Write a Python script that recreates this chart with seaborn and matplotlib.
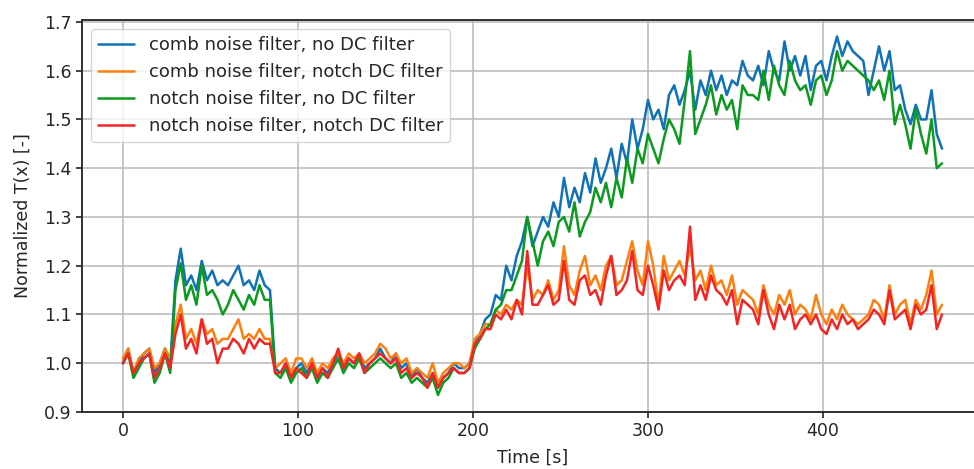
"""
Normalized T(x) over time for the four noise / DC filter combinations.

Usage:
    python plot.py
"""

import numpy as np
import pandas as pd
import matplotlib
matplotlib.use("Agg")
import matplotlib.pyplot as plt
import seaborn as sns

# =============================================================================
# Data (3 s spacing)
# =============================================================================

time_s = np.arange(0, 469, 3)

comb_no_dc = [
    1.00, 1.03, 0.98, 1.00, 1.02, 1.03, 0.98, 1.00, 1.03, 1.00,
    1.17, 1.235, 1.16, 1.18, 1.15, 1.21, 1.17, 1.19, 1.16, 1.17,
    1.16, 1.18, 1.20, 1.16, 1.17, 1.15, 1.19, 1.16, 1.15, 0.99,
    0.98, 1.00, 0.97, 0.99, 1.00, 0.98, 1.00, 0.97, 0.99, 0.98,
    1.00, 1.02, 0.99, 1.01, 1.00, 1.02, 0.99, 1.00, 1.01, 1.03,
    1.01, 1.00, 1.02, 0.99, 1.00, 0.97, 0.99, 0.97, 0.96, 0.98,
    0.95, 0.97, 0.98, 1.00, 0.99, 0.99, 1.00, 1.04, 1.06, 1.09,
    1.10, 1.14, 1.13, 1.20, 1.17, 1.22, 1.25, 1.30, 1.24, 1.27,
    1.30, 1.28, 1.33, 1.30, 1.38, 1.32, 1.36, 1.33, 1.39, 1.35,
    1.42, 1.37, 1.40, 1.44, 1.38, 1.45, 1.41, 1.50, 1.44, 1.48,
    1.54, 1.50, 1.52, 1.48, 1.55, 1.57, 1.53, 1.56, 1.60, 1.52,
    1.58, 1.55, 1.60, 1.56, 1.59, 1.55, 1.58, 1.57, 1.62, 1.59,
    1.58, 1.61, 1.57, 1.64, 1.60, 1.58, 1.66, 1.60, 1.63, 1.59,
    1.63, 1.56, 1.61, 1.62, 1.58, 1.63, 1.67, 1.63, 1.66, 1.64,
    1.63, 1.62, 1.55, 1.60, 1.65, 1.60, 1.64, 1.56, 1.57, 1.52,
    1.49, 1.53, 1.50, 1.50, 1.56, 1.47, 1.44,
]

comb_notch_dc = [
    1.01, 1.03, 0.98, 1.01, 1.02, 1.03, 0.99, 1.00, 1.03, 1.01,
    1.08, 1.12, 1.05, 1.07, 1.04, 1.09, 1.06, 1.07, 1.04, 1.05,
    1.05, 1.07, 1.09, 1.05, 1.06, 1.05, 1.07, 1.05, 1.05, 0.99,
    1.00, 1.01, 0.98, 1.01, 1.01, 0.99, 1.01, 0.98, 1.00, 0.99,
    1.01, 1.02, 1.00, 1.02, 1.01, 1.02, 1.00, 1.01, 1.02, 1.04,
    1.03, 1.01, 1.02, 1.00, 1.01, 0.98, 0.99, 0.98, 0.97, 1.00,
    0.96, 0.98, 0.99, 1.00, 1.00, 0.99, 1.00, 1.05, 1.06, 1.08,
    1.08, 1.11, 1.10, 1.12, 1.11, 1.13, 1.12, 1.20, 1.13, 1.15,
    1.14, 1.17, 1.13, 1.15, 1.24, 1.16, 1.14, 1.19, 1.22, 1.16,
    1.18, 1.15, 1.20, 1.22, 1.16, 1.17, 1.21, 1.25, 1.19, 1.16,
    1.25, 1.20, 1.12, 1.22, 1.17, 1.19, 1.21, 1.18, 1.24, 1.17,
    1.19, 1.15, 1.20, 1.16, 1.17, 1.14, 1.18, 1.12, 1.15, 1.14,
    1.13, 1.10, 1.16, 1.12, 1.10, 1.14, 1.12, 1.15, 1.10, 1.12,
    1.11, 1.09, 1.14, 1.10, 1.08, 1.11, 1.09, 1.12, 1.10, 1.09,
    1.08, 1.09, 1.10, 1.13, 1.12, 1.09, 1.16, 1.10, 1.12, 1.13,
    1.08, 1.13, 1.11, 1.14, 1.19, 1.10, 1.12,
]

notch_no_dc = [
    1.00, 1.02, 0.97, 0.99, 1.01, 1.02, 0.96, 0.98, 1.02, 0.98,
    1.15, 1.205, 1.13, 1.16, 1.12, 1.20, 1.14, 1.15, 1.13, 1.10,
    1.12, 1.15, 1.13, 1.11, 1.14, 1.12, 1.16, 1.13, 1.13, 0.98,
    0.97, 0.99, 0.96, 0.98, 0.99, 0.97, 0.99, 0.96, 0.98, 0.97,
    0.99, 1.01, 0.98, 1.00, 0.99, 1.01, 0.98, 0.99, 1.00, 1.01,
    1.00, 0.99, 1.00, 0.97, 0.98, 0.96, 0.97, 0.96, 0.95, 0.97,
    0.935, 0.96, 0.97, 0.99, 0.98, 0.98, 0.99, 1.03, 1.05, 1.07,
    1.08, 1.11, 1.12, 1.15, 1.15, 1.18, 1.21, 1.30, 1.25, 1.20,
    1.25, 1.27, 1.24, 1.29, 1.30, 1.27, 1.33, 1.26, 1.29, 1.31,
    1.36, 1.33, 1.37, 1.32, 1.38, 1.34, 1.42, 1.37, 1.44, 1.41,
    1.47, 1.44, 1.41, 1.46, 1.50, 1.48, 1.45, 1.54, 1.64, 1.47,
    1.50, 1.53, 1.57, 1.51, 1.55, 1.52, 1.54, 1.48, 1.57, 1.55,
    1.55, 1.54, 1.60, 1.54, 1.61, 1.57, 1.55, 1.62, 1.58, 1.56,
    1.57, 1.53, 1.58, 1.59, 1.55, 1.58, 1.64, 1.60, 1.62, 1.61,
    1.60, 1.59, 1.58, 1.56, 1.58, 1.54, 1.60, 1.49, 1.53, 1.49,
    1.44, 1.52, 1.47, 1.43, 1.50, 1.40, 1.41,
]

notch_notch_dc = [
    1.00, 1.02, 0.98, 1.00, 1.01, 1.02, 0.97, 0.99, 1.02, 0.99,
    1.06, 1.10, 1.03, 1.05, 1.02, 1.09, 1.04, 1.05, 1.00, 1.03,
    1.03, 1.05, 1.04, 1.02, 1.05, 1.03, 1.05, 1.04, 1.04, 0.98,
    0.98, 1.00, 0.97, 0.99, 0.98, 0.97, 1.00, 0.97, 0.99, 0.97,
    1.00, 1.03, 0.99, 1.01, 1.00, 1.02, 0.98, 1.00, 1.01, 1.02,
    1.01, 1.00, 1.01, 0.98, 0.99, 0.97, 0.98, 0.97, 0.95, 0.98,
    0.95, 0.97, 0.98, 0.99, 0.98, 0.98, 0.99, 1.04, 1.05, 1.07,
    1.07, 1.10, 1.09, 1.11, 1.09, 1.13, 1.10, 1.23, 1.12, 1.12,
    1.14, 1.16, 1.12, 1.13, 1.21, 1.13, 1.12, 1.17, 1.18, 1.14,
    1.15, 1.12, 1.18, 1.22, 1.14, 1.15, 1.17, 1.23, 1.15, 1.14,
    1.20, 1.16, 1.11, 1.19, 1.15, 1.17, 1.18, 1.16, 1.28, 1.13,
    1.16, 1.13, 1.18, 1.15, 1.14, 1.12, 1.15, 1.08, 1.13, 1.12,
    1.11, 1.08, 1.15, 1.10, 1.07, 1.12, 1.09, 1.12, 1.07, 1.09,
    1.10, 1.08, 1.10, 1.07, 1.06, 1.09, 1.07, 1.10, 1.08, 1.09,
    1.07, 1.08, 1.09, 1.11, 1.10, 1.08, 1.15, 1.09, 1.10, 1.11,
    1.07, 1.12, 1.10, 1.11, 1.16, 1.07, 1.10,
]

series_names = [
    "comb noise filter, no DC filter",
    "comb noise filter, notch DC filter",
    "notch noise filter, no DC filter",
    "notch noise filter, notch DC filter",
]

series_colors = ["#0f72b8", "#ff7f0e", "#0a9a1e", "#f42424"]


# =============================================================================
# Plot
# =============================================================================

frames = []
for name, values in zip(
    series_names,
    [comb_no_dc, comb_notch_dc, notch_no_dc, notch_notch_dc],
):
    frames.append(pd.DataFrame({
        "Time [s]": time_s,
        "T": values,
        "series": name,
    }))

df = pd.concat(frames, ignore_index=True)

sns.set_theme(style="ticks")
plt.rcParams["font.family"] = ["DejaVu Sans"]

fig = plt.figure(figsize=(9.74, 4.69), dpi=100)

# right edge of the axes runs past the figure, as in the cropped original
ax = fig.add_axes([0.0842, 0.1215, 0.925, 0.836])

sns.lineplot(
    data=df,
    x="Time [s]",
    y="T",
    hue="series",
    hue_order=series_names,
    palette=series_colors,
    estimator=None,
    sort=False,
    linewidth=1.8,
    ax=ax,
)

ax.set_xlim(-23.4, 491.4)
ax.set_ylim(0.9, 1.704)
ax.set_xticks([0, 100, 200, 300, 400])
ax.set_yticks([0.9, 1.0, 1.1, 1.2, 1.3, 1.4, 1.5, 1.6, 1.7])
ax.set_yticklabels(["0.9", "1.0", "1.1", "1.2", "1.3", "1.4", "1.5", "1.6", "1.7"])

ax.grid(True, color="#b8b8b8", linewidth=1.1)
ax.set_axisbelow(True)

for side in ["left", "bottom", "top", "right"]:
    ax.spines[side].set_color("#222222")
    ax.spines[side].set_linewidth(1.3)

ax.tick_params(labelsize=12.5, length=4, width=1.2, color="#222222")

ax.set_xlabel("Time [s]", fontsize=12.5, labelpad=6)
ax.set_ylabel("Normalized T(x) [-]", fontsize=12.5, labelpad=9)

ax.legend(
    loc="upper left",
    fontsize=13,
    frameon=True,
    framealpha=0.8,
    edgecolor="#cccccc",
    fancybox=True,
)

fig.savefig("out.png", dpi=100)
